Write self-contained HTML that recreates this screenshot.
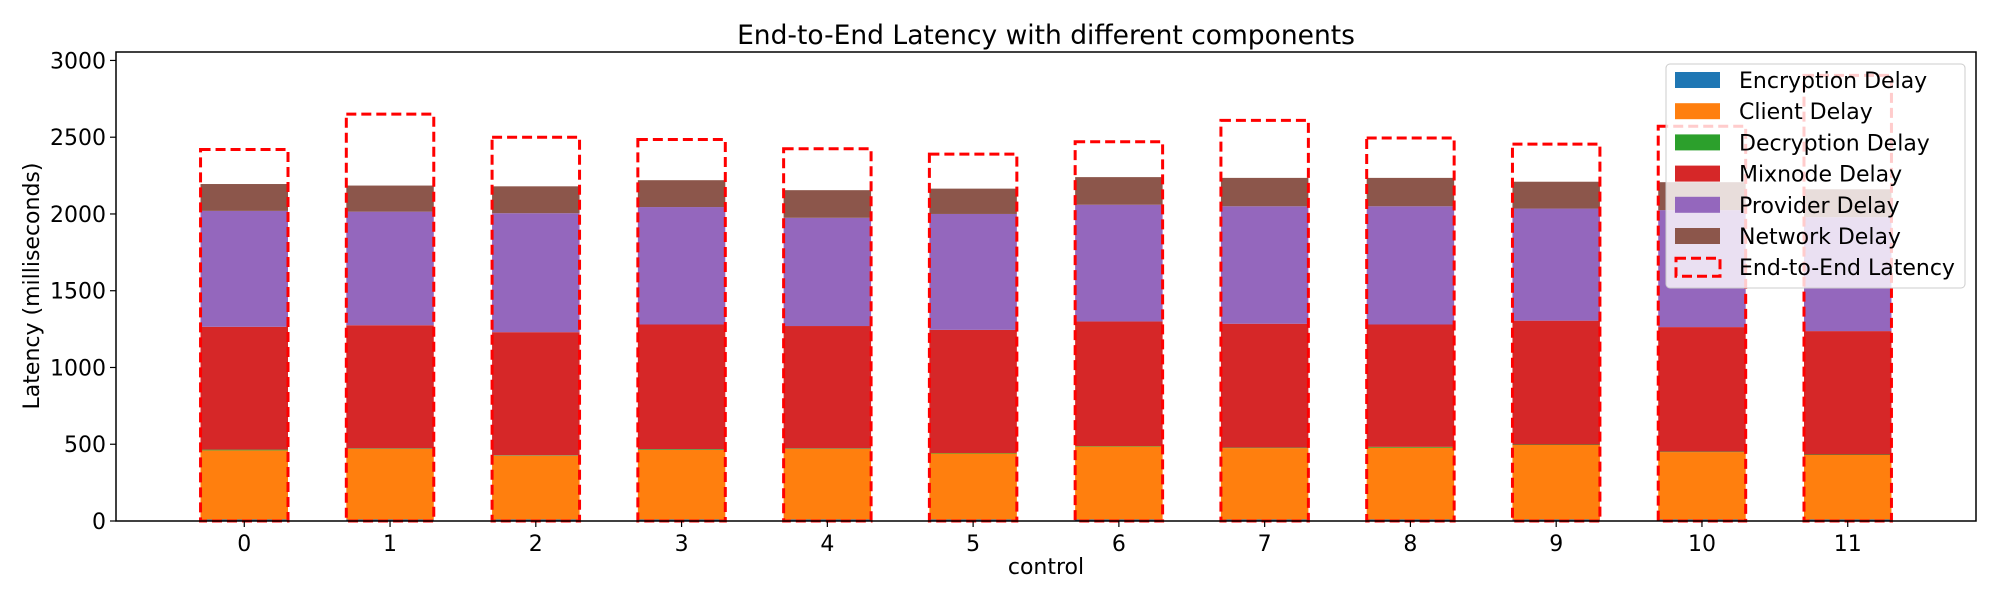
<!DOCTYPE html>
<html><head><meta charset="utf-8"><style>
html,body{margin:0;padding:0;background:#fff;}
svg{display:block;font-family:"DejaVu Sans","Liberation Sans",sans-serif;}
</style></head><body>
<svg id="chart" width="2000" height="600" viewBox="0 0 2000 600" xmlns="http://www.w3.org/2000/svg">
<rect width="2000" height="600" fill="#fff"/>
<text x="1046" y="44" font-size="26.5" text-anchor="middle" fill="#000">End-to-End Latency with different components</text>
<g id="bars"></g>
<g id="axes"></g>
<text x="1046" y="574" font-size="22" text-anchor="middle">control</text>
<text transform="translate(39,286) rotate(-90)" font-size="22" text-anchor="middle">Latency (milliseconds)</text>
<g id="legend"></g>
</svg>
<script>
const categories = ["0","1","2","3","4","5","6","7","8","9","10","11"];
const encryption = [10,10,10,10,10,10,10,10,10,10,10,10];
const client = [450,460,415,453,460,430,475,465,468,485,439,420];
const decryption = [5,3,3,5,3,3,3,3,5,3,3,3];
const mixnode = [800,802,802,812,797,802,812,807,797,807,811,804];
const provider = [755,740,775,765,705,755,760,765,770,730,762,742];
const network = [175,170,175,175,180,165,180,185,185,175,182,182];
const e2e = [2420,2650,2500,2485,2425,2390,2470,2610,2495,2455,2571,2903];
const yTicks = [0,500,1000,1500,2000,2500,3000];
const seriesNames = ["Encryption Delay","Client Delay","Decryption Delay","Mixnode Delay","Provider Delay","Network Delay"];
const seriesColors = ["#1f77b4","#ff7f0e","#2ca02c","#d62728","#9467bd","#8c564b"];

const NS="http://www.w3.org/2000/svg";
const L=116,R=1976,T=52,B=521,YMAX=3055,XMIN=-0.88,XMAX=11.88,BW=0.6;
const xs=v=>L+(v-XMIN)/(XMAX-XMIN)*(R-L);
const ys=v=>B-v/YMAX*(B-T);
function mk(tag,attrs,parent){const e=document.createElementNS(NS,tag);for(const k in attrs)e.setAttribute(k,attrs[k]);parent.appendChild(e);return e;}
const bars=document.getElementById('bars'),axes=document.getElementById('axes'),leg=document.getElementById('legend');
const series=[encryption,client,decryption,mixnode,provider,network];
const keys=["encryption","client","decryption","mixnode","provider","network"];
categories.forEach((c,i)=>{
  let cum=0;
  series.forEach((s,j)=>{
    const y0=ys(cum),y1=ys(cum+s[i]);cum+=s[i];
    const r=mk('rect',{x:xs(i-BW/2),y:y1,width:xs(BW)-xs(0),height:y0-y1,fill:seriesColors[j]},bars);
    
    
  });
  const d=mk('rect',{x:xs(i-BW/2),y:ys(e2e[i]),width:xs(BW)-xs(0),height:ys(0)-ys(e2e[i]),fill:'none',stroke:'#ff0000','stroke-width':3,'stroke-dasharray':'10,5'},bars);
  
  
});
mk('rect',{x:L,y:T,width:R-L,height:B-T,fill:'none',stroke:'#000','stroke-width':1.5},axes);
yTicks.forEach(t=>{
  const y=ys(t);
  mk('line',{x1:L-6,x2:L,y1:y,y2:y,stroke:'#000','stroke-width':1.2},axes);
  const tx=mk('text',{x:L-10,y:y+8,'font-size':22,'text-anchor':'end'},axes);tx.textContent=t;
  
  
});
categories.forEach((c,i)=>{
  const x=xs(i);
  mk('line',{x1:x,x2:x,y1:B,y2:B+6,stroke:'#000','stroke-width':1.2},axes);
  const tx=mk('text',{x:x,y:B+30,'font-size':22,'text-anchor':'middle'},axes);tx.textContent=c;
  
  
});
const lb=mk('rect',{x:1666,y:64,width:299,height:224,rx:4,fill:'#fff','fill-opacity':0.8,stroke:'#ccc','stroke-width':1},leg);


const names=seriesNames.concat(["End-to-End Latency"]);
names.forEach((n,k)=>{
  const cy=80+k*31.2;
  if(k<6){mk('rect',{x:1675,y:cy-8,width:45,height:16,fill:seriesColors[k]},leg);}
  else{mk('rect',{x:1676,y:cy-9,width:44,height:18,fill:'none',stroke:'#ff0000','stroke-width':3,'stroke-dasharray':'10,5'},leg);}
  const t=mk('text',{x:1739,y:cy+8,'font-size':22},leg);t.textContent=n;
  
  
});
</script>
</body></html>
